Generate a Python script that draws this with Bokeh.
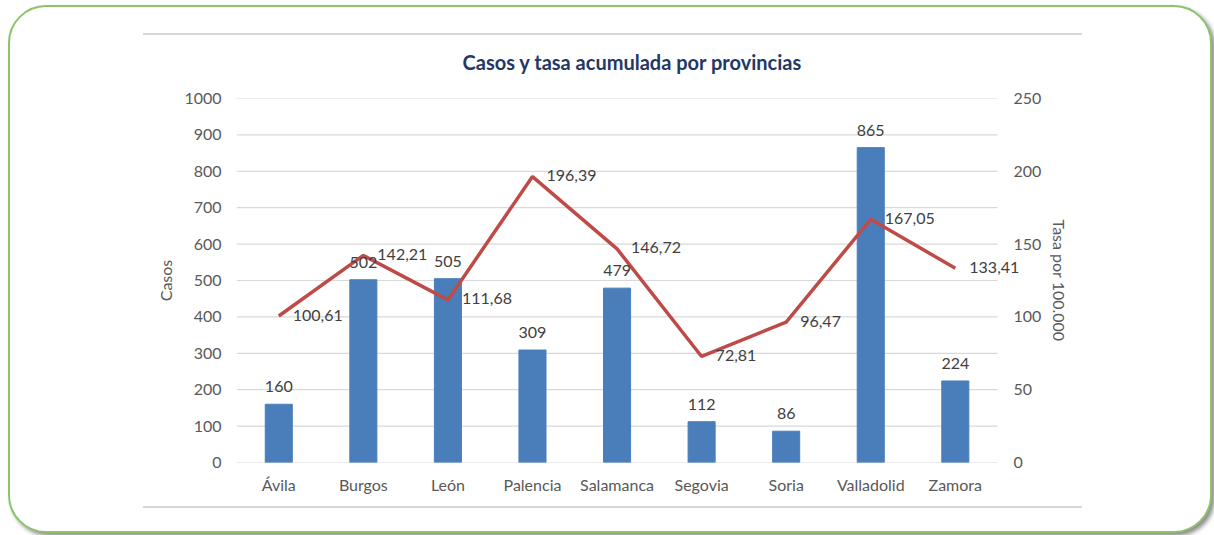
from bokeh.plotting import figure
from bokeh.models import (ColumnDataSource, Range1d, LinearAxis, FixedTicker,
                          LabelSet, InlineStyleSheet)
from bokeh.core.properties import value
from bokeh.embed import file_html
from bokeh.resources import INLINE

provincias = ["Ávila", "Burgos", "León", "Palencia", "Salamanca", "Segovia", "Soria", "Valladolid", "Zamora"]
casos = [160, 502, 505, 309, 479, 112, 86, 865, 224]
tasa = [100.61, 142.21, 111.68, 196.39, 146.72, 72.81, 96.47, 167.05, 133.41]
left_ticks = [0, 100, 200, 300, 400, 500, 600, 700, 800, 900, 1000]
right_ticks = [0, 50, 100, 150, 200, 250]

FONT = "Lato"
TICK_COLOR = "#595959"
LABEL_COLOR = "#404040"

n = len(provincias)
centers = [i + 0.5 for i in range(n)]          # category centres on a numeric axis

src = ColumnDataSource(dict(
    xc=centers,
    casos=casos,
    tasa=tasa,
    casos_lbl=[str(c) for c in casos],
    tasa_lbl=[f"{t:.2f}".replace(".", ",") for t in tasa],
))

# the frame runs a little past the last category so that the last line label is not clipped
p = figure(x_range=Range1d(0, n + 0.33), y_range=Range1d(0, 1000),
           width=1204, height=528, output_backend="svg", toolbar_location=None,
           min_border_left=226, min_border_right=189, min_border_top=91, min_border_bottom=73,
           title="Casos y tasa acumulada por provincias")
p.margin = (5, 0, 0, 8)

css = """
:host {
  border: 2px solid #8CC36C;
  border-radius: 38px;
  box-shadow: 3px 3px 4px rgba(0,0,0,0.45);
  background-color: white;
}
:host::before {
  content: ""; position: absolute; left: 133px; top: 26px; width: 939px; height: 2px;
  background: #D6D6D6;
}
:host::after {
  content: ""; position: absolute; left: 133px; top: 499px; width: 939px; height: 2px;
  background: #D6D6D6;
}
"""
p.stylesheets = [InlineStyleSheet(css=css)]
p.border_fill_color = None
p.background_fill_color = None
p.outline_line_color = None

p.title.align = "left"
p.title.offset = 226
p.title.text_font = FONT
p.title.text_font_size = "20px"
p.title.text_font_style = "bold"
p.title.text_color = "#1F3864"
p.title.standoff = 49

p.extra_y_ranges = {"tasa": Range1d(0, 250)}

# horizontal gridlines spanning only the category area
p.segment(x0=0, x1=n, y0=left_ticks, y1=left_ticks, line_color="#D9D9D9", line_width=1.2)

p.vbar(x="xc", top="casos", width=0.32, source=src, color="#4A7EBB")
p.line(x="xc", y="tasa", y_range_name="tasa", source=src, line_color="#BE4B48", line_width=3.5)

p.add_layout(LabelSet(x="xc", y="casos", text="casos_lbl", source=src, text_align="center",
                      text_baseline="bottom", y_offset=12, text_font=value(FONT),
                      text_font_size="16px", text_color=LABEL_COLOR))
p.add_layout(LabelSet(x="xc", y="tasa", y_range_name="tasa", text="tasa_lbl", source=src,
                      text_align="left", text_baseline="middle", x_offset=14, y_offset=1,
                      text_font=value(FONT), text_font_size="16px", text_color=LABEL_COLOR))

xa = p.xaxis[0]
xa.ticker = FixedTicker(ticks=centers)
xa.major_label_overrides = {c: name for c, name in zip(centers, provincias)}

ya = p.yaxis[0]
ya.ticker = FixedTicker(ticks=left_ticks)
ya.axis_label = "Casos"

ra = LinearAxis(y_range_name="tasa", ticker=FixedTicker(ticks=right_ticks), axis_label="Tasa por 100.000")
p.add_layout(ra, "right")

for ax in [ya, ra, xa]:
    ax.axis_line_color = None
    ax.major_tick_line_color = None
    ax.minor_tick_line_color = None
    ax.major_tick_out = 0
    ax.major_tick_in = 0
    ax.major_label_text_font = FONT
    ax.major_label_text_font_size = "16px"
    ax.major_label_text_color = TICK_COLOR
    ax.axis_label_text_font = FONT
    ax.axis_label_text_font_size = "16px"
    ax.axis_label_text_font_style = "normal"
    ax.axis_label_text_color = TICK_COLOR

ya.major_label_standoff = 15
ya.axis_label_standoff = 6
ra.major_label_standoff = -12
ra.axis_label_standoff = 6
xa.major_label_standoff = 12

p.xgrid.grid_line_color = None
p.ygrid.grid_line_color = None

open("out.html", "w").write(file_html(p, INLINE))
